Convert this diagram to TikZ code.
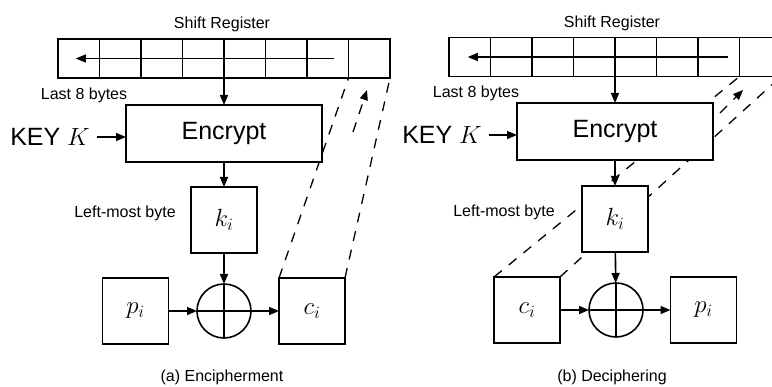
\documentclass[tikz,border=0pt]{standalone}
\usepackage{fontspec}
\setmainfont{Liberation Sans}
\usetikzlibrary{arrows.meta, positioning, backgrounds}

\begin{document}
\begin{tikzpicture}[x=1pt, y=-1pt, >={Triangle[length=10pt, width=8pt]}, line width=1.6pt,
  cell/.style={draw, fill=white, minimum width=41.5pt, minimum height=39pt, inner sep=0pt, outer sep=0pt},
  box/.style={draw, fill=white, inner sep=0pt, outer sep=0pt, font=\fontsize{25}{30}\selectfont},
  bytebox/.style={box, minimum width=66pt, minimum height=66pt},
  encbox/.style={box, minimum width=196pt, minimum height=57pt},
  xorsym/.style={circle, draw, fill=white, minimum size=54pt, inner sep=0pt, outer sep=0pt,
    path picture={\draw[line width=1.3pt] (path picture bounding box.north) -- (path picture bounding box.south)
      (path picture bounding box.west) -- (path picture bounding box.east);}},
  lbl/.style={font=\fontsize{16}{19}\selectfont, inner sep=0pt},
  big/.style={font=\fontsize{25}{30}\selectfont, inner sep=0pt},
  feedback/.style={dash pattern=on 10pt off 9pt, line width=1.3pt}]
  \useasboundingbox (0,0) rectangle (772,387);

  % (a) encipherment
  \foreach \i in {1,...,8}
    \node[cell] (a-r\i) at ({58+41.5*(\i-0.5)}, 58.5) {};
  \node[encbox] (a-enc) at (224,133.5) {Encrypt};
  \node[bytebox] (a-k) at (224,220) {$k_i$};
  \node[xorsym] (a-x) at (224,311) {};
  \node[bytebox] (a-p) at (135.5,311) {$p_i$};
  \node[bytebox] (a-c) at (312,311) {$c_i$};

  \node[lbl] (a-srt) at (222,24) {Shift Register};
  \node[lbl] (a-last) at (84,95) {Last 8 bytes};
  \node[big] (a-key) at (50,137) {KEY $K$};
  \node[lbl] (a-lmb) at (125,213) {Left-most byte};
  \node[lbl] (a-cap) at (222,377) {(a) Encipherment};

  \draw[->, line width=1.2pt] ([xshift=-15pt]a-r8.west) -- ([xshift=-3pt]a-r1.center);
  \draw[->] (a-r4.south east) -- (a-enc.north);
  \draw[->, shorten <=6pt] (a-key.east) -- (a-key.east -| a-enc.west);
  \draw[->] (a-enc) -- (a-k);
  \draw[->] (a-k) -- (a-x);
  \draw[->] (a-p) -- (a-x);
  \draw[->] (a-x) -- (a-c);

  \coordinate (a-fb0) at (353,132);
  \coordinate (a-fb1) at (367,90);
  \begin{scope}[on background layer]
    \draw[feedback] (a-c.north west) -- (a-r8.south west);
    \draw[feedback] (a-c.north east) -- (a-r8.south east);
    \draw[feedback, ->] (a-fb0) -- (a-fb1);
  \end{scope}

  % (b) deciphering
  \foreach \i in {1,...,8}
    \node[cell] (b-r\i) at ({449+41.5*(\i-0.5)}, 57) {};
  \node[encbox] (b-enc) at (615,131.5) {Encrypt};
  \node[bytebox] (b-k) at (615,219) {$k_i$};
  \node[xorsym] (b-x) at (616,310) {};
  \node[bytebox] (b-c) at (527,310) {$c_i$};
  \node[bytebox] (b-p) at (703.5,310) {$p_i$};

  \node[lbl] (b-srt) at (612,23) {Shift Register};
  \node[lbl] (b-last) at (476,93) {Last 8 bytes};
  \node[big] (b-key) at (442,135) {KEY $K$};
  \node[lbl] (b-lmb) at (504,212) {Left-most byte};
  \node[lbl] (b-cap) at (612,377) {(b) Deciphering};

  \draw[->, line width=1.2pt] ([xshift=-12pt]b-r8.west) -- ([xshift=-2pt]b-r1.center);
  \draw[->] (b-r4.south east) -- (b-enc.north);
  \draw[->, shorten <=6pt] (b-key.east) -- (b-key.east -| b-enc.west);
  \draw[->] (b-enc) -- (b-k);
  \draw[->] (b-k) -- (b-x);
  \draw[->] (b-c) -- (b-x);
  \draw[->] (b-x) -- (b-p);

  \coordinate (b-fb0) at (720,113);
  \coordinate (b-fb1) at (743,90);
  \begin{scope}[on background layer]
    \draw[feedback] (b-c.north west) -- (b-r8.south west);
    \draw[feedback] (b-c.north east) -- (b-r8.south east);
    \draw[feedback, ->] (b-fb0) -- (b-fb1);
  \end{scope}
\end{tikzpicture}
\end{document}
